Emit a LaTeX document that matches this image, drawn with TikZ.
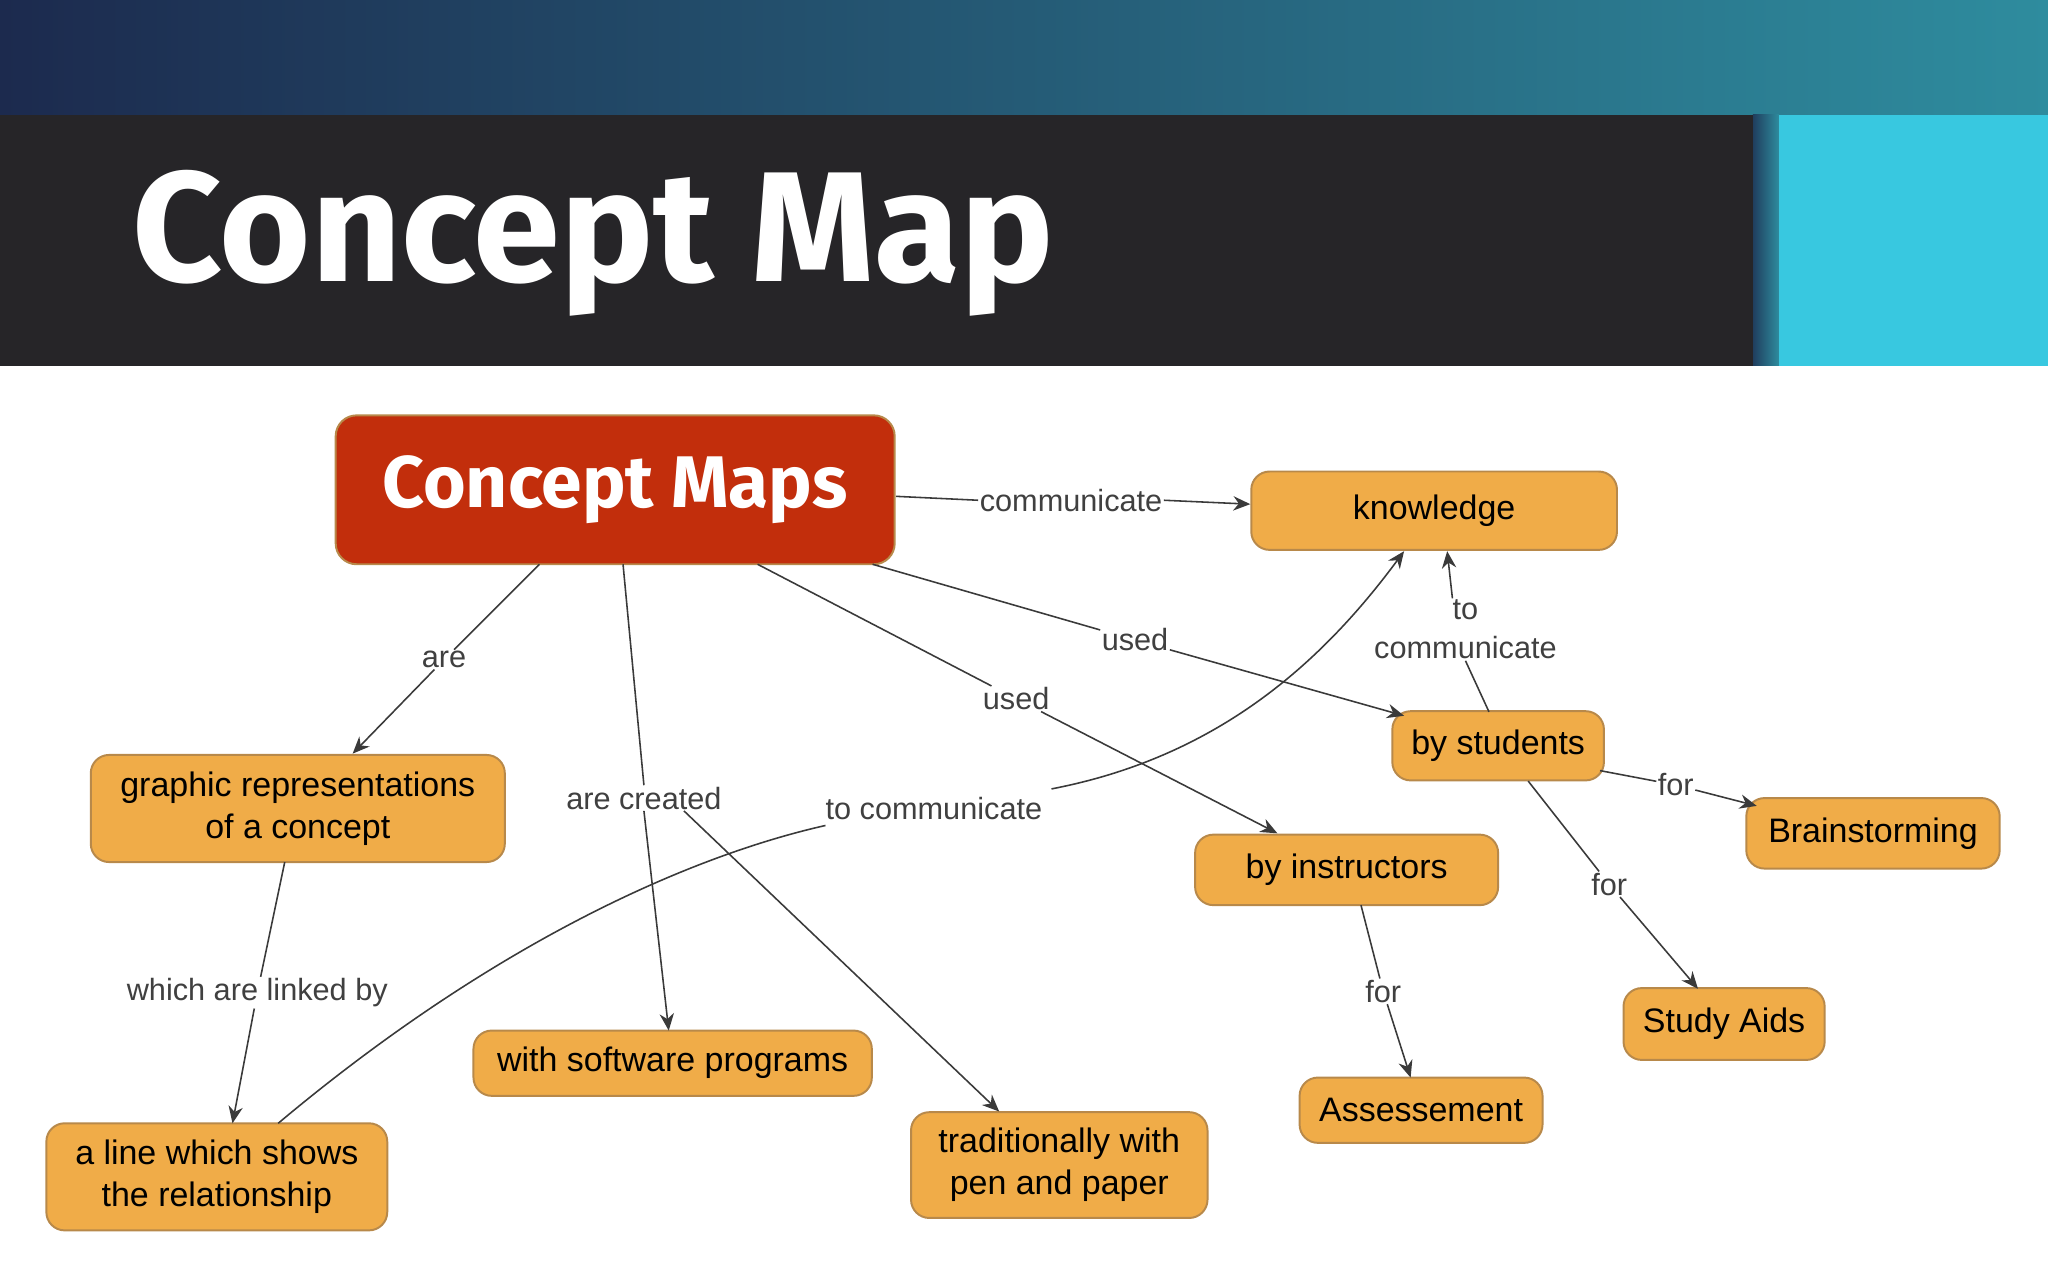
\documentclass[tikz,border=0pt]{standalone}
\usepackage{fontspec}
\setmainfont{Liberation Sans}
\newfontfamily\titlefont{Fira Sans}
\usetikzlibrary{arrows.meta}
\definecolor{cmred}{HTML}{C22E0C}
\definecolor{cmorange}{HTML}{F0AC48}
\definecolor{cmborder}{HTML}{B8894A}
\definecolor{darkbar}{HTML}{262528}
\definecolor{cyanbox}{HTML}{38C8E0}
\definecolor{navy}{HTML}{1C2A4E}
\definecolor{tealr}{HTML}{2E8C9E}
\definecolor{linec}{HTML}{3A3A3A}
\tikzset{
  concept/.style={draw=cmborder, line width=1.5pt, fill=cmorange, rounded corners=14pt, align=center, font=\fontsize{26}{32}\selectfont, inner sep=4pt},
  conn/.style={draw=linec, line width=1.2pt, -{Stealth[length=13pt,width=11pt]}},
  plain/.style={draw=linec, line width=1.2pt},
  lbl/.style={fill=white, inner sep=1pt, text=black!75, font=\fontsize{23.5}{30}\selectfont, align=center}
}
\begin{document}
\begin{tikzpicture}[x=1pt,y=-1pt]
\useasboundingbox (0,0) rectangle (1568,980);
\fill[white] (0,0) rectangle (1568,980);
\shade[left color=navy, right color=tealr] (0,0) rectangle (1568,88);
\shade[left color=navy!80!tealr, right color=tealr] (1342,88) rectangle (1362,280);
\fill[darkbar] (0,88) rectangle (1342,280);
\fill[cyanbox] (1362,88) rectangle (1568,280);
\node[anchor=west, text=white, font=\titlefont\bfseries\fontsize{120}{130}\selectfont] (title) at (98,186) {Concept Map};

\node[draw=cmborder, line width=1.5pt, fill=cmred, rounded corners=16pt, minimum width=428pt, minimum height=114pt, text=white, font=\titlefont\bfseries\fontsize{56}{62}\selectfont] (cm) at (471,375) {Concept Maps};
\node[concept, minimum width=280pt, minimum height=60pt] (kn) at (1098,391) {knowledge};
\node[concept, minimum width=317pt, minimum height=82pt] (gr) at (228,619) {graphic representations\\of a concept};
\node[concept, minimum width=162pt, minimum height=53pt] (st) at (1147,571) {by students};
\node[concept, minimum width=194pt, minimum height=54pt] (br) at (1434,638) {Brainstorming};
\node[concept, minimum width=232pt, minimum height=54pt] (in) at (1031,666) {by instructors};
\node[concept, minimum width=154pt, minimum height=55pt] (sa) at (1320,784) {Study Aids};
\node[concept, minimum width=186pt, minimum height=50pt] (as) at (1088,850) {Assessement};
\node[concept, minimum width=305pt, minimum height=50pt] (sw) at (515,814) {with software programs};
\node[concept, minimum width=227pt, minimum height=81pt] (tr) at (811,892) {traditionally with\\pen and paper};
\node[concept, minimum width=261pt, minimum height=82pt] (li) at (166,901) {a line which shows\\the relationship};

% labels
\node[lbl] (l1) at (820,383) {communicate};
\node[lbl] (l2) at (340,505) {are};
\node[lbl] (l3) at (493,611) {are created};
\node[lbl] (l4) at (778,535) {used};
\node[lbl] (l5) at (869,490) {used};
\node[lbl] (l6) at (1122,482) {to\\communicate};
\node[lbl] (l7) at (1283,601) {for};
\node[lbl] (l8) at (1232,677) {for};
\node[lbl] (l9) at (1059,759) {for};
\node[lbl] (l10) at (197,760) {which are linked by};
\node[lbl] (l11) at (715,619) {to communicate};

% edges
\draw[plain] (686,380) -- (l1.west);
\draw[conn] (l1.east) -- (kn.west |- 0,386);
\draw[plain] (413,432) -- (l2);
\draw[conn] (l2) -- (270,577);
\draw[plain] (477,432) -- (l3.north);
\draw[conn] (l3.south) -- (512,789);
\draw[conn] (l3.south east) ++(-30,0) -- (765,851);
\draw[plain] (580,432) -- (l4);
\draw[conn] (l4) -- (978,638);
\draw[plain] (668,432) -- (l5);
\draw[conn] (l5) -- (1075,548);
\draw[plain] (1140,545) -- (l6.south);
\draw[conn] (l6.north) ++(-10,0) -- (1108,422);
\draw[plain] (1225,590) -- (l7);
\draw[conn] (l7) -- (1345,617);
\draw[plain] (1170,598) -- (l8);
\draw[conn] (l8) -- (1300,757);
\draw[plain] (1042,693) -- (l9);
\draw[conn] (l9) -- (1080,825);
\draw[plain] (218,660) -- (l10);
\draw[conn] (l10) -- (178,860);
\draw[plain] (213,860) .. controls (380,720) and (530,655) .. (632,632);
\draw[conn] (805,604) .. controls (930,580) and (1010,510) .. (1075,422);
\end{tikzpicture}
\end{document}
